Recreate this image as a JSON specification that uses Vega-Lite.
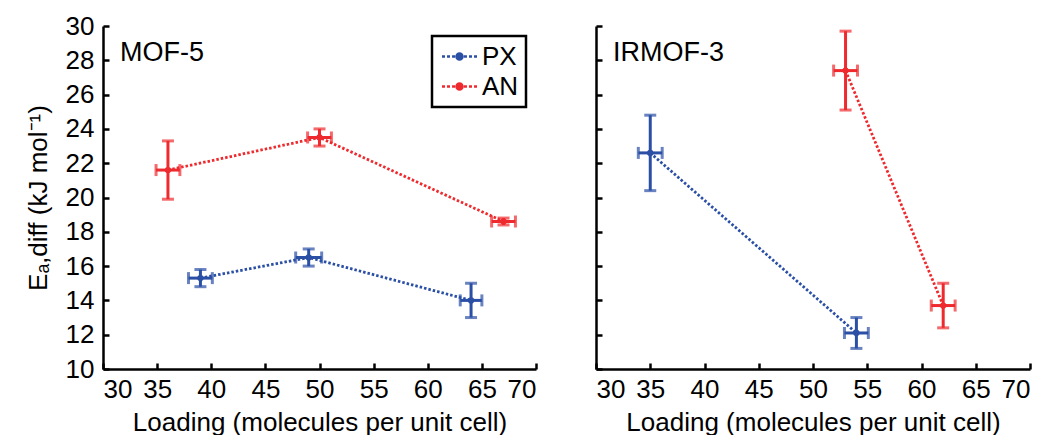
{
  "$schema": "https://vega.github.io/schema/vega-lite/v6.json",
  "padding": {"left": 25, "top": 13, "right": 2, "bottom": 0},
  "config": {
    "font": "Liberation Sans",
    "view": {"stroke": null},
    "title": {"fontSize": 27, "fontWeight": "normal", "color": "black", "anchor": "start", "frame": "group", "dx": 17},
    "axis": {
      "domainColor": "black",
      "domainWidth": 2.5,
      "tickColor": "black",
      "tickWidth": 2.5,
      "tickSize": -6,
      "labelFontSize": 26,
      "labelColor": "black",
      "titleFontSize": 26,
      "titleFontWeight": "normal",
      "titleColor": "black",
      "grid": false
    },
    "axisX": {"labelPadding": 13, "titlePadding": 7},
    "axisY": {"labelPadding": 15, "titlePadding": 14}
  },
  "datasets": {
    "pts": [
      {"panel": "MOF-5", "series": "PX", "x": 39, "y": 15.3, "xlo": 37.9, "xhi": 40.1, "ylo": 14.8, "yhi": 15.8},
      {"panel": "MOF-5", "series": "PX", "x": 49, "y": 16.5, "xlo": 47.8, "xhi": 50.2, "ylo": 16.0, "yhi": 17.0},
      {"panel": "MOF-5", "series": "PX", "x": 64, "y": 14.0, "xlo": 63.0, "xhi": 65.0, "ylo": 13.0, "yhi": 15.0},
      {"panel": "MOF-5", "series": "AN", "x": 36, "y": 21.6, "xlo": 34.9, "xhi": 37.1, "ylo": 19.9, "yhi": 23.3},
      {"panel": "MOF-5", "series": "AN", "x": 50, "y": 23.5, "xlo": 48.9, "xhi": 51.1, "ylo": 23.0, "yhi": 24.0},
      {"panel": "MOF-5", "series": "AN", "x": 67, "y": 18.6, "xlo": 65.9, "xhi": 68.1, "ylo": 18.4, "yhi": 18.8},
      {"panel": "IRMOF-3", "series": "PX", "x": 35, "y": 22.6, "xlo": 33.9, "xhi": 36.1, "ylo": 20.4, "yhi": 24.8},
      {"panel": "IRMOF-3", "series": "PX", "x": 54, "y": 12.1, "xlo": 52.9, "xhi": 55.1, "ylo": 11.2, "yhi": 13.0},
      {"panel": "IRMOF-3", "series": "AN", "x": 53, "y": 27.4, "xlo": 51.9, "xhi": 54.1, "ylo": 25.1, "yhi": 29.7},
      {"panel": "IRMOF-3", "series": "AN", "x": 62, "y": 13.7, "xlo": 60.9, "xhi": 63.1, "ylo": 12.4, "yhi": 15.0}
    ]
  },
  "spacing": 56,
  "resolve": {"legend": {"color": "independent"}},
  "hconcat": [
    {
      "title": {"text": "MOF-5", "offset": -54},
      "width": 433,
      "height": 343,
      "data": {"name": "pts"},
      "transform": [{"filter": "datum.panel === 'MOF-5'"}],
      "encoding": {
        "x": {"field": "x", "type": "quantitative", "scale": {"domain": [30, 70], "nice": false}, "axis": {"values": [30, 35, 40, 45, 50, 55, 60, 65, 70], "title": "Loading (molecules per unit cell)"}},
        "y": {"field": "y", "type": "quantitative", "scale": {"domain": [10, 30], "nice": false}, "axis": {"values": [10, 12, 14, 16, 18, 20, 22, 24, 26, 28, 30], "title": "Eₐ,diff (kJ mol⁻¹)"}},
        "color": {"field": "series", "type": "nominal", "scale": {"domain": ["PX", "AN"], "range": ["#2A4FA5", "#EE2A2E"]},
          "legend": {
            "title": null, "orient": "top-right", "offset": 10, "strokeColor": "black", "padding": 7,
            "labelFontSize": 26, "labelColor": "black", "labelOffset": 9, "rowPadding": 3,
            "symbolType": "M-1.46,0H-1.21M-1.04,0H-0.79M-0.62,0H-0.37M0.25,0A0.25,0.25 0 1,1 -0.25,0A0.25,0.25 0 1,1 0.25,0ZM0.37,0H0.62M0.79,0H1.04M1.21,0H1.46",
            "symbolSize": 576, "symbolStrokeWidth": 2.5, "symbolOffset": 7,
            "encode": {
              "legend": {"update": {"strokeWidth": {"value": 2.5}}},
              "symbols": {"update": {"fill": {"scale": "color", "field": "value"}, "stroke": {"scale": "color", "field": "value"}, "fillOpacity": {"value": 1}, "opacity": {"value": 1}}}
            }
          }
        }
      },
      "layer": [
        {"mark": {"type": "line", "strokeDash": [2.5, 2], "strokeWidth": 2.8}},
        {"mark": {"type": "rule", "strokeWidth": 3}, "encoding": {"y": {"field": "ylo", "type": "quantitative"}, "y2": {"field": "yhi"}}},
        {"mark": {"type": "rule", "strokeWidth": 3}, "encoding": {"x": {"field": "xlo", "type": "quantitative"}, "x2": {"field": "xhi"}}},
        {"mark": {"type": "tick", "orient": "horizontal", "size": 12, "thickness": 3}, "encoding": {"y": {"field": "ylo", "type": "quantitative"}}},
        {"mark": {"type": "tick", "orient": "horizontal", "size": 12, "thickness": 3}, "encoding": {"y": {"field": "yhi", "type": "quantitative"}}},
        {"mark": {"type": "tick", "orient": "vertical", "size": 12, "thickness": 3}, "encoding": {"x": {"field": "xlo", "type": "quantitative"}}},
        {"mark": {"type": "tick", "orient": "vertical", "size": 12, "thickness": 3}, "encoding": {"x": {"field": "xhi", "type": "quantitative"}}},
        {"mark": {"type": "point", "filled": true, "shape": "circle", "size": 40, "opacity": 1}}
      ]
    },
    {
      "title": {"text": "IRMOF-3", "offset": -42},
      "width": 434,
      "height": 343,
      "data": {"name": "pts"},
      "transform": [{"filter": "datum.panel === 'IRMOF-3'"}],
      "encoding": {
        "x": {"field": "x", "type": "quantitative", "scale": {"domain": [30, 70], "nice": false}, "axis": {"values": [30, 35, 40, 45, 50, 55, 60, 65, 70], "title": "Loading (molecules per unit cell)"}},
        "y": {"field": "y", "type": "quantitative", "scale": {"domain": [10, 30], "nice": false}, "axis": {"values": [10, 12, 14, 16, 18, 20, 22, 24, 26, 28, 30], "labels": false, "title": null}},
        "color": {"field": "series", "type": "nominal", "scale": {"domain": ["PX", "AN"], "range": ["#2A4FA5", "#EE2A2E"]}, "legend": null}
      },
      "layer": [
        {"mark": {"type": "line", "strokeDash": [2.5, 2], "strokeWidth": 2.8}},
        {"mark": {"type": "rule", "strokeWidth": 3}, "encoding": {"y": {"field": "ylo", "type": "quantitative"}, "y2": {"field": "yhi"}}},
        {"mark": {"type": "rule", "strokeWidth": 3}, "encoding": {"x": {"field": "xlo", "type": "quantitative"}, "x2": {"field": "xhi"}}},
        {"mark": {"type": "tick", "orient": "horizontal", "size": 12, "thickness": 3}, "encoding": {"y": {"field": "ylo", "type": "quantitative"}}},
        {"mark": {"type": "tick", "orient": "horizontal", "size": 12, "thickness": 3}, "encoding": {"y": {"field": "yhi", "type": "quantitative"}}},
        {"mark": {"type": "tick", "orient": "vertical", "size": 12, "thickness": 3}, "encoding": {"x": {"field": "xlo", "type": "quantitative"}}},
        {"mark": {"type": "tick", "orient": "vertical", "size": 12, "thickness": 3}, "encoding": {"x": {"field": "xhi", "type": "quantitative"}}},
        {"mark": {"type": "point", "filled": true, "shape": "circle", "size": 40, "opacity": 1}}
      ]
    }
  ]
}
